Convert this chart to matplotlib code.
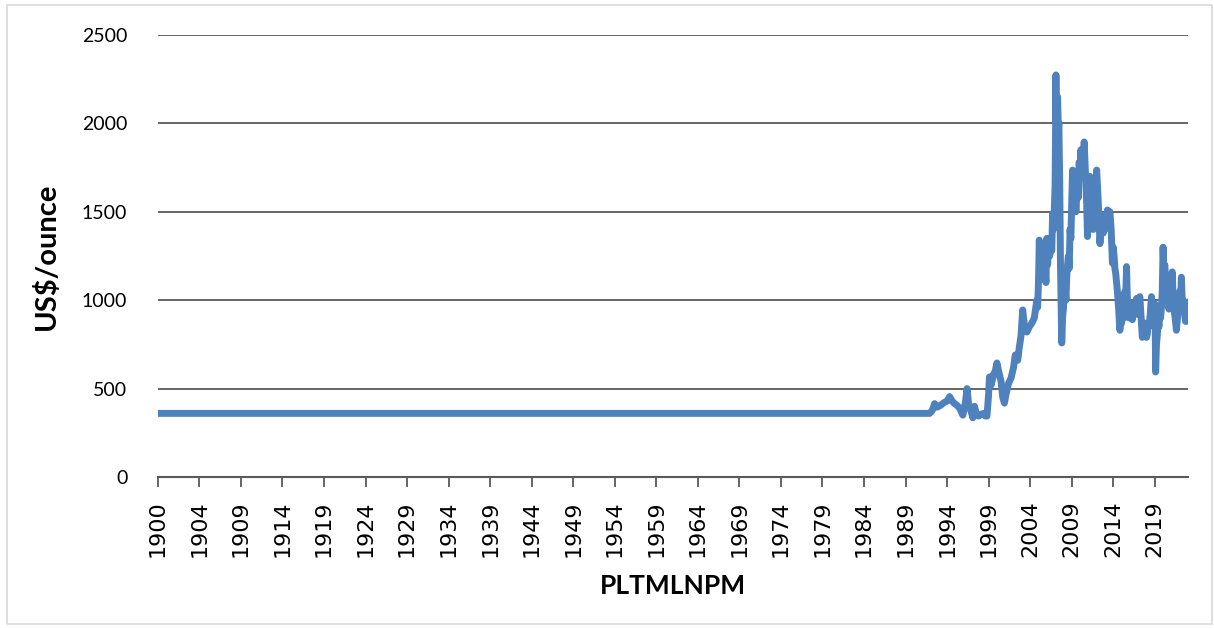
#!/usr/bin/env python3
import matplotlib
matplotlib.use("Agg")
import matplotlib.pyplot as plt
from matplotlib.patches import Rectangle

# price series, decimal year -> US$/ounce (flat fill before the real quotes start)
years = [
    1900.0, 1992.9, 1993.2, 1993.5, 1993.8, 1994.2, 1994.6, 1995.0, 1995.3, 1995.6,
    1995.9, 1996.2, 1996.5, 1996.9, 1997.2, 1997.4, 1997.6, 1997.9, 1998.1, 1998.3,
    1998.5, 1998.8, 1999.1, 1999.4, 1999.6, 1999.8, 2000.0, 2000.1, 2000.3, 2000.6,
    2000.8, 2001.0, 2001.2, 2001.5, 2001.7, 2001.9, 2002.1, 2002.4, 2002.7, 2003.0,
    2003.2, 2003.5, 2003.7, 2003.9, 2004.1, 2004.3, 2004.6, 2004.9, 2005.2, 2005.5,
    2005.8, 2005.9, 2006.0, 2006.1, 2006.2, 2006.3, 2006.4, 2006.5, 2006.65, 2006.8,
    2006.9, 2007.0, 2007.1, 2007.2, 2007.35, 2007.5, 2007.6, 2007.7, 2007.8, 2007.9,
    2008.0, 2008.05, 2008.1, 2008.15, 2008.2, 2008.25, 2008.3, 2008.4, 2008.45, 2008.55,
    2008.65, 2008.8, 2008.9, 2009.0, 2009.1, 2009.2, 2009.3, 2009.4, 2009.5, 2009.6,
    2009.7, 2009.8, 2009.9, 2010.0, 2010.1, 2010.2, 2010.3, 2010.4, 2010.5, 2010.6,
    2010.7, 2010.8, 2010.9, 2011.0, 2011.1, 2011.2, 2011.3, 2011.4, 2011.5, 2011.6,
    2011.7, 2011.8, 2011.9, 2012.0, 2012.1, 2012.2, 2012.3, 2012.4, 2012.5, 2012.6,
    2012.7, 2012.8, 2012.9, 2013.0, 2013.1, 2013.2, 2013.3, 2013.4, 2013.5, 2013.6,
    2013.7, 2013.8, 2013.9, 2014.0, 2014.15, 2014.3, 2014.4, 2014.5, 2014.6, 2014.75,
    2014.9, 2015.0, 2015.1, 2015.2, 2015.3, 2015.4, 2015.5, 2015.65, 2015.8, 2015.9,
    2016.0, 2016.1, 2016.2, 2016.3, 2016.4, 2016.5, 2016.6, 2016.7, 2016.8, 2016.9,
    2017.0, 2017.15, 2017.3, 2017.4, 2017.5, 2017.65, 2017.8, 2017.9, 2018.0, 2018.1,
    2018.2, 2018.35, 2018.5, 2018.6, 2018.7, 2018.8, 2018.9, 2019.0, 2019.1, 2019.2,
    2019.3, 2019.45, 2019.6, 2019.7, 2019.8, 2019.9, 2020.0, 2020.05, 2020.1, 2020.2,
    2020.3, 2020.4, 2020.5, 2020.6, 2020.7, 2020.8, 2020.9, 2021.0, 2021.1, 2021.2,
    2021.3, 2021.4, 2021.5, 2021.6, 2021.7, 2021.8, 2021.9, 2022.0, 2022.1, 2022.2,
    2022.3, 2022.45, 2022.6, 2022.7, 2022.8, 2022.9, 2023.0, 2023.1, 2023.2, 2023.3,
    2023.4, 2023.5, 2023.6, 2023.7, 2023.8, 2023.9, 2024.0,
]
prices = [
    360, 360, 375, 415, 395, 405, 420, 430, 455, 430,
    415, 405, 390, 350, 420, 500, 410, 370, 335, 400,
    360, 345, 355, 360, 345, 345, 470, 566, 520, 580,
    600, 645, 600, 540, 450, 418, 470, 530, 560, 620,
    690, 660, 735, 800, 945, 860, 820, 850, 870, 900,
    1000, 960, 1100, 1340, 1180, 1260, 1200, 1250, 1120, 1180,
    1100, 1350, 1200, 1290, 1250, 1320, 1280, 1490, 1400, 1500,
    1650, 1900, 2274, 2000, 2150, 2050, 2150, 1950, 2000, 1700,
    1200, 758, 900, 950, 1050, 1100, 1000, 1130, 1200, 1250,
    1180, 1400, 1350, 1550, 1736, 1550, 1600, 1680, 1500, 1600,
    1650, 1580, 1780, 1700, 1850, 1750, 1800, 1700, 1895, 1780,
    1650, 1550, 1360, 1450, 1500, 1700, 1600, 1450, 1480, 1400,
    1550, 1650, 1580, 1736, 1650, 1550, 1450, 1320, 1400, 1480,
    1400, 1380, 1420, 1400, 1450, 1510, 1430, 1480, 1500, 1400,
    1210, 1300, 1250, 1180, 1150, 1100, 1050, 950, 830, 900,
    870, 950, 980, 900, 1050, 1000, 1190, 1000, 950, 900,
    980, 940, 890, 960, 940, 980, 1010, 920, 960, 1000,
    1020, 900, 790, 850, 800, 870, 830, 790, 810, 870,
    850, 920, 1020, 930, 920, 960, 980, 880, 594, 750,
    800, 880, 850, 920, 900, 960, 1050, 1300, 1150, 1200,
    1120, 1100, 1060, 1050, 950, 990, 1050, 1020, 1160, 1020,
    950, 900, 830, 880, 950, 1000, 1050, 980, 1130, 1000,
    1000, 950, 920, 880, 880, 930, 990,
]

tick_labels = [
    "1900", "1904", "1909", "1914", "1919", "1924", "1929", "1934", "1939",
    "1944", "1949", "1954", "1959", "1964", "1969", "1974", "1979", "1984",
    "1989", "1994", "1999", "2004", "2009", "2014", "2019",
]
y_ticks = [0, 500, 1000, 1500, 2000, 2500]

GRID = "#595959"

fig = plt.figure(figsize=(12.14, 6.28), dpi=100)
fig.patches.append(Rectangle((0.006, 0.006), 0.992, 0.986, transform=fig.transFigure,
                             fill=False, edgecolor="#d9d9d9", linewidth=1.2))
ax = fig.add_axes([0.130, 0.2404, 0.8486, 0.7039])

ax.plot(years, prices, color="#4F81BD", linewidth=5, solid_joinstyle="round",
        solid_capstyle="round")

ax.set_xlim(1900, 2024)
ax.set_ylim(0, 2500)
ax.set_yticks(y_ticks)
ax.set_yticklabels([str(v) for v in y_ticks], fontfamily="Lato", fontsize=14)
ax.set_xticks([1900 + 5 * i for i in range(len(tick_labels))])
ax.set_xticklabels(tick_labels, rotation=90, fontfamily="DejaVu Sans", fontsize=16)

ax.yaxis.grid(True, color=GRID, linewidth=1.3)
ax.set_axisbelow(True)
for side in ("left", "right", "top"):
    ax.spines[side].set_visible(False)
ax.spines["bottom"].set_color(GRID)
ax.spines["bottom"].set_linewidth(1.5)
ax.tick_params(axis="y", length=0, pad=22)
ax.tick_params(axis="x", direction="out", length=7, width=1.3, color=GRID, pad=10)

ax.set_ylabel("US$/ounce", fontfamily="Lato", fontweight="bold", fontsize=21, labelpad=16)
ax.set_xlabel("PLTMLNPM", fontfamily="Lato", fontweight="bold", fontsize=19, labelpad=12)

fig.savefig("out.png", dpi=100)
